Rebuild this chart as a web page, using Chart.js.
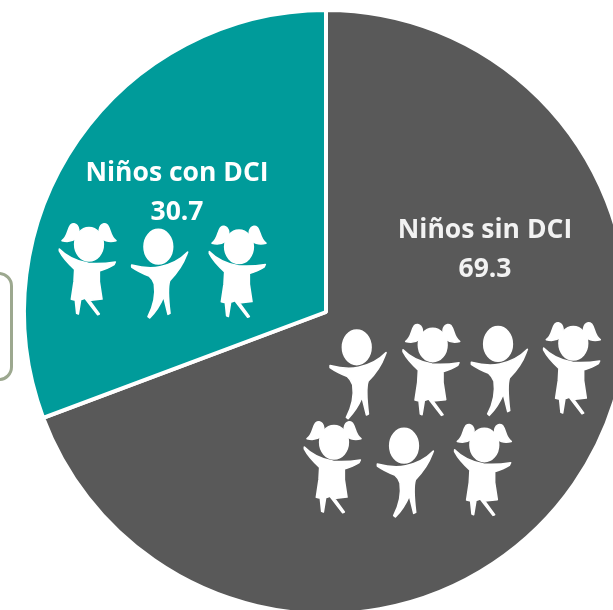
<!DOCTYPE html>
<html lang="es">
<head>
<meta charset="utf-8">
<title>Niños con y sin DCI</title>
<style>
html,body{margin:0;padding:0;background:#fff;width:613px;height:610px;overflow:hidden}
#wrap{position:absolute;left:0;top:0;width:652px;height:624px}
#side{position:absolute;left:-40px;top:272px;width:46.5px;height:102.5px;border:3px solid #9ca88f;border-radius:14px}
</style>
<script src="https://cdn.jsdelivr.net/npm/chart.js@4"></script>
</head>
<body>
<div id="side"></div>
<div id="wrap"><canvas id="c" width="652" height="624"></canvas></div>
<script>
const categories = ["Niños sin DCI", "Niños con DCI"];
const values = [69.3, 30.7];
const colors = ["#595959", "#009b9a"];
const labelColors = ["#f2f2f2", "#ffffff"];

const girls = [[50,215],[200,217.5],[393.7,315.7],[534.3,314],[295,413],[445.3,415.7]];
const boys = [[125,220],[323.4,320.6],[464.7,317.3],[370.7,419]];
const labelSpots = [[485,230,269],[177,173,212]];

const k = 1/3;
function girl(ctx){
  ctx.beginPath();
  ctx.ellipse(117*k,88*k,43*k,50*k,0,0,Math.PI*2);
  ctx.fill(); ctx.stroke();
  ctx.beginPath();
  ctx.moveTo(84*k,62*k);
  ctx.bezierCurveTo(92*k,36*k,76*k,18*k,62*k,30*k);
  ctx.bezierCurveTo(52*k,42*k,54*k,66*k,36*k,77*k);
  ctx.quadraticCurveTo(60*k,84*k,78*k,70*k);
  ctx.closePath();
  ctx.fill(); ctx.stroke();
  ctx.beginPath();
  ctx.moveTo(150*k,62*k);
  ctx.bezierCurveTo(142*k,36*k,158*k,18*k,172*k,30*k);
  ctx.bezierCurveTo(182*k,42*k,180*k,66*k,198*k,77*k);
  ctx.quadraticCurveTo(174*k,84*k,156*k,70*k);
  ctx.closePath();
  ctx.fill(); ctx.stroke();
  ctx.beginPath();
  ctx.moveTo(28*k,102*k);
  ctx.quadraticCurveTo(60*k,135*k,115*k,145*k);
  ctx.quadraticCurveTo(155*k,148*k,196*k,141*k);
  ctx.lineTo(192*k,149*k);
  ctx.quadraticCurveTo(175*k,160*k,148*k,168*k);
  ctx.lineTo(148*k,200*k);
  ctx.lineTo(156*k,252*k);
  ctx.lineTo(118*k,256*k);
  ctx.lineTo(148*k,297*k);
  ctx.lineTo(143*k,299*k);
  ctx.lineTo(105*k,250*k);
  ctx.lineTo(92*k,254*k);
  ctx.lineTo(85*k,297*k);
  ctx.lineTo(80*k,295*k);
  ctx.lineTo(76*k,256*k);
  ctx.lineTo(64*k,253*k);
  ctx.lineTo(72*k,200*k);
  ctx.lineTo(74*k,163*k);
  ctx.quadraticCurveTo(42*k,135*k,28*k,108*k);
  ctx.closePath();
  ctx.fill(); ctx.stroke();
}
function boy(ctx){
  ctx.beginPath();
  ctx.ellipse(100*k,80*k,43*k,52*k,0,0,Math.PI*2);
  ctx.fill(); ctx.stroke();
  ctx.beginPath();
  ctx.moveTo(20*k,135*k);
  ctx.quadraticCurveTo(70*k,148*k,105*k,140*k);
  ctx.quadraticCurveTo(155*k,130*k,188*k,96*k);
  ctx.lineTo(184*k,106*k);
  ctx.quadraticCurveTo(170*k,145*k,134*k,182*k);
  ctx.quadraticCurveTo(126*k,205*k,135*k,280*k);
  ctx.lineTo(129*k,283*k);
  ctx.lineTo(116*k,230*k);
  ctx.quadraticCurveTo(100*k,268*k,74*k,294*k);
  ctx.lineTo(69*k,290*k);
  ctx.quadraticCurveTo(95*k,240*k,88*k,192*k);
  ctx.quadraticCurveTo(82*k,176*k,72*k,168*k);
  ctx.quadraticCurveTo(40*k,155*k,20*k,141*k);
  ctx.closePath();
  ctx.fill(); ctx.stroke();
}

const decorations = {
  id: "decorations",
  afterDatasetsDraw(chart){
    const ctx = chart.ctx;
    ctx.save();
    ctx.fillStyle = "#ffffff";
    ctx.strokeStyle = "#ffffff";
    ctx.lineWidth = 1.6;
    ctx.lineJoin = "round";
    girls.forEach(p => { ctx.save(); ctx.translate(p[0],p[1]); girl(ctx); ctx.restore(); });
    boys.forEach(p => { ctx.save(); ctx.translate(p[0],p[1]); boy(ctx); ctx.restore(); });
    ctx.font = '700 26.5px "Open Sans", sans-serif';
    ctx.textAlign = "center";
    ctx.textBaseline = "middle";
    categories.forEach((name,i) => {
      const s = labelSpots[i];
      ctx.fillStyle = labelColors[i];
      ctx.fillText(name, s[0], s[1]);
      ctx.fillText(String(values[i]), s[0], s[2]);
    });
    ctx.restore();
  }
};

new Chart(document.getElementById("c"), {
  type: "pie",
  data: {
    labels: categories,
    datasets: [{
      data: values,
      backgroundColor: colors,
      borderColor: "#ffffff",
      borderWidth: 4,
      radius: 302
    }]
  },
  options: {
    responsive: false,
    animation: false,
    layout: { padding: 0 },
    plugins: { legend: { display: false }, tooltip: { enabled: false } }
  },
  plugins: [decorations]
});
</script>
</body>
</html>
